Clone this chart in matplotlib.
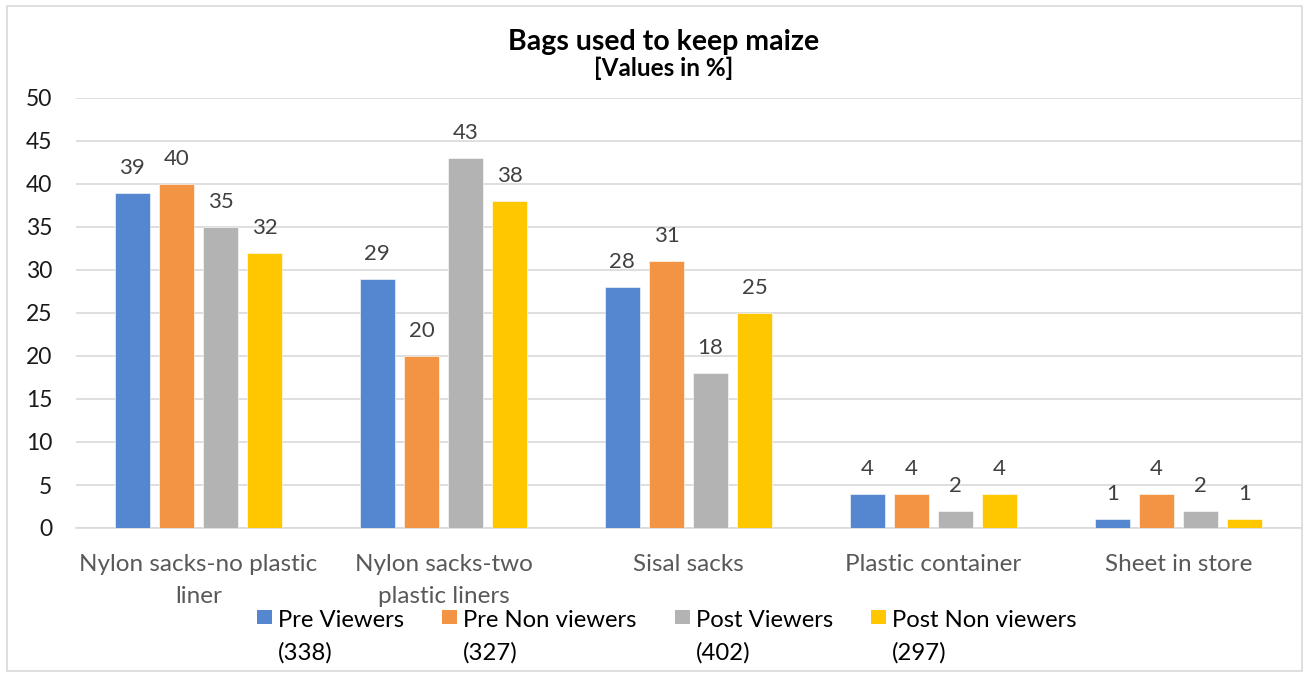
import matplotlib
matplotlib.use("Agg")
import matplotlib.pyplot as plt
import numpy as np
from matplotlib.patches import Rectangle

plt.rcParams['font.family'] = ['Lato', 'DejaVu Sans']

categories = ["Nylon sacks-no plastic\nliner", "Nylon sacks-two\nplastic liners",
              "Sisal sacks", "Plastic container", "Sheet in store"]
series_names = ["Pre Viewers", "Pre Non viewers", "Post Viewers", "Post Non viewers"]
series_counts = ["(338)", "(327)", "(402)", "(297)"]
pre_viewers = [39, 29, 28, 4, 1]
pre_non_viewers = [40, 20, 31, 4, 4]
post_viewers = [35, 43, 18, 2, 2]
post_non_viewers = [32, 38, 25, 4, 1]
yticks = [0, 5, 10, 15, 20, 25, 30, 35, 40, 45, 50]

values = [pre_viewers, pre_non_viewers, post_viewers, post_non_viewers]
colors = ["#5586D0", "#F29444", "#B3B3B3", "#FFC700"]

W, H = 1304, 674
fig = plt.figure(figsize=(W / 100, H / 100), dpi=100)
fig.patches.append(Rectangle((7 / W, 1 - 671 / H), 1295 / W, 665 / H, transform=fig.transFigure,
                             fill=False, edgecolor="#D9D9D9", linewidth=1.2))

ax = fig.add_axes([76 / W, 146 / H, (1301 - 76) / W, (528 - 98) / H])
x = np.arange(len(categories))
bw = 0.143
step = 0.18
for i, (vals, c) in enumerate(zip(values, colors)):
    pos = x + (i - 1.5) * step
    ax.bar(pos, vals, width=bw, color=c, edgecolor="white", linewidth=0.4, zorder=3)
    for p, v in zip(pos, vals):
        ax.annotate(str(v), (p, v), xytext=(0, 18), textcoords="offset points",
                    ha="center", va="center", fontsize=16, color="#404040")

ax.set_xlim(-0.5, len(categories) - 0.5)
ax.set_ylim(0, 50)
ax.set_yticks(yticks)
ax.set_yticklabels([str(t) for t in yticks], fontsize=16.5, color="#1A1A1A")
ax.yaxis.grid(True, color="#D9D9D9", linewidth=1.2, zorder=0)
ax.set_axisbelow(True)
for s in ["top", "right", "left"]:
    ax.spines[s].set_visible(False)
ax.spines["bottom"].set_color("#D9D9D9")
ax.spines["bottom"].set_linewidth(1.2)
ax.tick_params(axis="y", length=0, pad=17)
ax.tick_params(axis="x", length=0, pad=19)
ax.set_xticks(x)
ax.set_xticklabels(categories, fontsize=17.5, color="#595959", linespacing=1.6)

fig.text(664 / W, 1 - 50 / H, "Bags used to keep maize", ha="center", va="baseline",
         fontsize=20.5, fontweight="bold", color="#000000")
fig.text(664 / W, 1 - 76 / H, "[Values in %]", ha="center", va="baseline",
         fontsize=17.5, fontweight="bold", color="#000000")

# legend
leg_x = [257, 442, 675, 871]
for name, cnt, c, lx in zip(series_names, series_counts, colors, leg_x):
    fig.patches.append(Rectangle((lx / W, 1 - 624 / H), 15 / W, 14 / H, transform=fig.transFigure,
                                 facecolor=c, edgecolor="none"))
    fig.text((lx + 21) / W, 1 - 627 / H, name, ha="left", va="baseline", fontsize=17.2, color="#000000")
    fig.text((lx + 21) / W, 1 - 660 / H, cnt, ha="left", va="baseline", fontsize=17.2, color="#000000")

fig.savefig("out.png", dpi=100, facecolor="white")
